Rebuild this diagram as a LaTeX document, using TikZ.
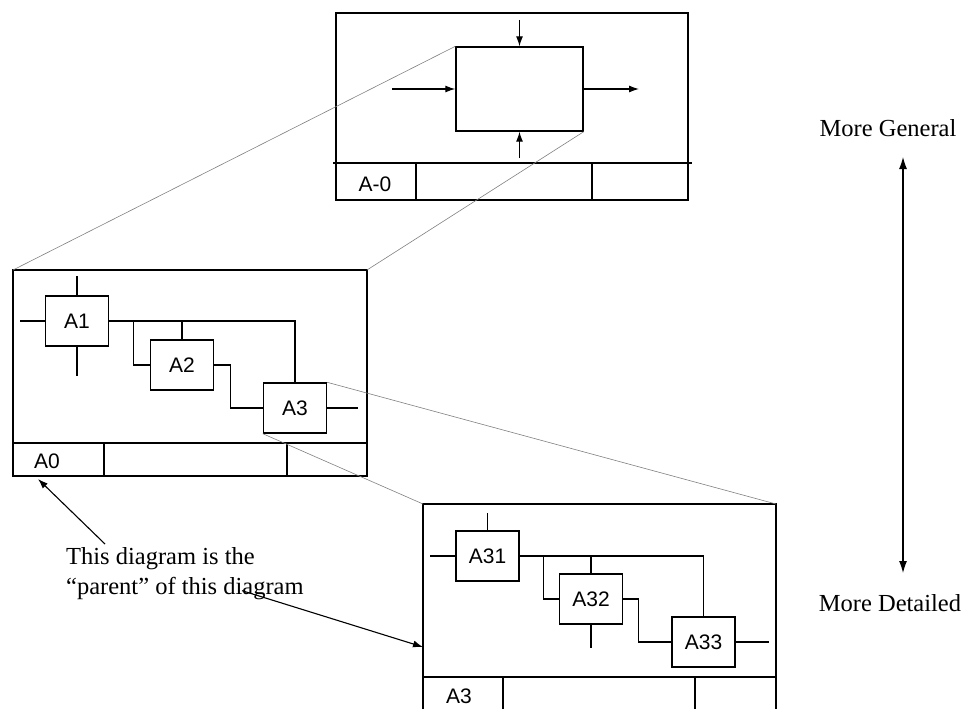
\documentclass[tikz,border=0pt]{standalone}
\usepackage{fontspec}
\setmainfont{Liberation Serif}
\setsansfont{Liberation Sans}
\usetikzlibrary{arrows.meta}

\tikzset{
  frame/.style={line width=1.4pt},
  actbox/.style={draw, line width=1.4pt, minimum width=63pt, minimum height=50pt,
    inner sep=0pt, font=\sffamily\fontsize{21}{21}\selectfont},
  cell/.style={font=\sffamily\fontsize{21}{21}\selectfont},
  flow/.style={line width=1.1pt},
  zoomline/.style={gray, line width=0.6pt},
  tip/.style={-{Latex[length=10pt,width=7pt]}},
  note/.style={font=\fontsize{24.5}{30}\selectfont, align=left},
}

\begin{document}
\begin{tikzpicture}[x=1pt,y=-1pt]
  \useasboundingbox (0,0) rectangle (970,709);
  % Context diagram (A-0)
  \coordinate (F0nw) at (336,13);
  \coordinate (F0se) at (688,200);
  \draw[frame] (F0nw) rectangle (F0se);
  \draw[frame] (333,163) -- (692,163);
  \foreach \x in {416,592}
    \draw[frame] (\x,163) -- (\x,200);
  \node[cell] (lblA-0) at (375,184) {A-0};
  \node[draw, line width=1.4pt, minimum width=127pt, minimum height=84pt] (top) at (519.5,89) {};
  \coordinate (ctlTop) at (519.5,20);
  \coordinate (inTop) at (392,89);
  \coordinate (outTop) at (639,89);
  \coordinate (mechTop) at (519.5,158);
  \draw[flow,tip] (ctlTop) -- (top.north);
  \draw[flow,tip] (inTop) -- (top.west);
  \draw[flow,tip] (top.east) -- (outTop);
  \draw[flow,tip] (mechTop) -- (top.south);

  % Decomposition A0
  \coordinate (F1nw) at (13,270);
  \coordinate (F1ne) at (367,270);
  \draw[frame] (F1nw) rectangle (367,476);
  \draw[frame] (13,443) -- (367,443);
  \foreach \x in {104,287}
    \draw[frame] (\x,443) -- (\x,476);
  \node[cell] (lblA0) at (47,461) {A0};
  \node[actbox] (A1) at (77,321) {A1};
  \node[actbox] (A2) at (182,365) {A2};
  \node[actbox] (A3) at (295,408) {A3};
  \draw[flow] (A1.north) -- ++(0,-19);
  \draw[flow] (A1.south) -- ++(0,29);
  \draw[flow] (A1.west) -- ++(-25,0);
  \draw[flow] (A1.east) -| (A3.north);
  \draw[flow] (A1.east) ++(24,0) |- (A2.west);
  \draw[flow] (A2.north) -- (A2.north |- A1.east);
  \draw[flow] (A2.east) -- ++(16,0) |- (A3.west);
  \draw[flow] (A3.east) -- ++(31,0);

  % Decomposition A3
  \coordinate (F2nw) at (423,504);
  \coordinate (F2ne) at (776,504);
  \draw[frame] (423,715) -- (F2nw) -- (F2ne) -- (776,715);
  \draw[frame] (423,677) -- (776,677);
  \foreach \x in {503,695}
    \draw[frame] (\x,677) -- (\x,715);
  \node[cell] (lblA3) at (459,696) {A3};
  \node[actbox] (A31) at (487.5,556) {A31};
  \node[actbox] (A32) at (591,599) {A32};
  \node[actbox] (A33) at (703.5,642) {A33};
  \draw[flow] (A31.north) -- ++(0,-17);
  \draw[flow] (A31.west) -- ++(-25,0);
  \draw[flow] (A31.east) -| (A33.north);
  \draw[flow] (A31.east) ++(24,0) |- (A32.west);
  \draw[flow] (A32.north) -- (A32.north |- A31.east);
  \draw[flow] (A32.south) -- ++(0,23);
  \draw[flow] (A32.east) -- ++(15,0) |- (A33.west);
  \draw[flow] (A33.east) -- ++(33,0);

  % Zoom lines between levels
  \draw[zoomline] (top.north west) -- (F1nw);
  \draw[zoomline] (top.south east) -- (F1ne);
  \draw[zoomline] (A3.north east) -- (F2ne);
  \draw[zoomline] (A3.south west) -- (F2nw);

  % Parent note
  \node[note, anchor=north west, inner sep=0pt] (parent) at (66,547)
    {This diagram is the\\ ``parent'' of this diagram};
  \coordinate (toA0) at (38,479);
  \coordinate (toA3) at (423,647);
  \draw[flow,tip] (parent.north west) ++(39,-3) -- (toA0);
  \draw[flow,tip] (parent.south west) ++(176,-9) -- (toA3);

  % Level axis
  \node[note] (general) at (888,128) {More General};
  \node[note] (detailed) at (890,603) {More Detailed};
  \coordinate (axTop) at (903,157);
  \coordinate (axBot) at (903,573);
  \draw[flow,{Latex[length=12pt,width=8pt]}-{Latex[length=12pt,width=8pt]}] (axTop) -- (axBot);
\end{tikzpicture}
\end{document}
